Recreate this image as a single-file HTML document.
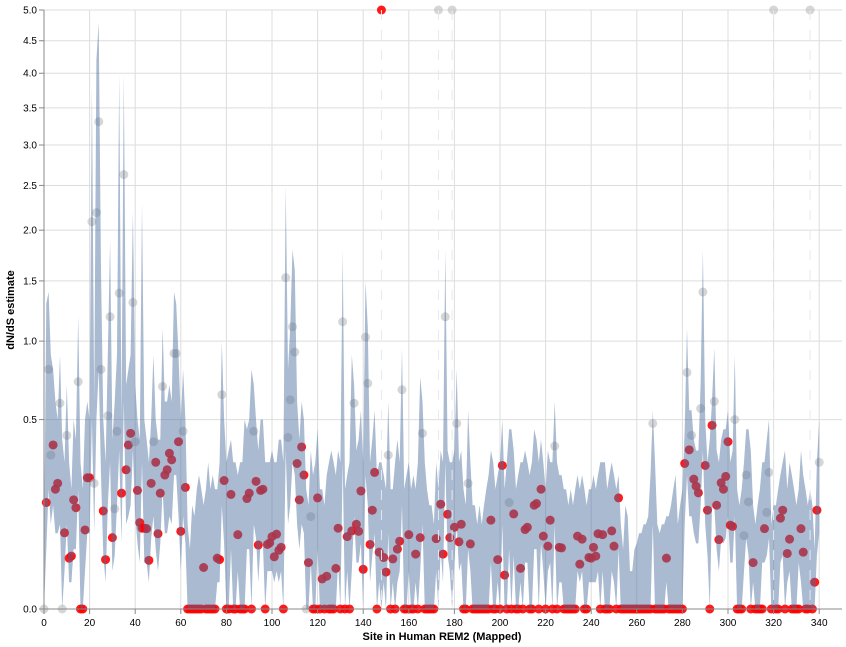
<!DOCTYPE html>
<html><head><meta charset="utf-8"><style>
html,body{margin:0;padding:0;background:#fff;}
svg{display:block;font-family:"Liberation Sans",Arial,sans-serif;}
</style></head><body>
<svg id="chart" width="846" height="647" viewBox="0 0 846 647" xmlns="http://www.w3.org/2000/svg">
<g id="grid"></g>
<g id="pts"></g>
<g id="band"></g>
<g id="axes"></g>
<text transform="translate(14,310) rotate(-90)" text-anchor="middle" font-size="11" font-weight="bold" fill="#000">dN/dS estimate</text>
<text x="442" y="640" text-anchor="middle" font-size="11" font-weight="bold" fill="#000">Site in Human REM2 (Mapped)</text>
</svg>
<script>
const est=[0,.158,.80,.33,.375,.2,.22,.59,0,.081,.42,.036,.039,.166,.143,.72,0,0,.087,.24,.24,2.09,.22,2.19,3.31,.80,.134,.034,.52,1.19,.071,.14,.44,1.39,.187,2.63,.27,.375,.43,1.31,.39,.196,.104,.091,.091,.09,.033,.22,.39,.3,.079,.187,.69,.25,.27,.338,.31,.91,.91,.39,.084,.44,.206,0,0,0,0,0,0,0,.024,0,0,0,0,0,.036,.034,.64,.23,0,0,.183,0,0,.077,0,0,0,.17,.187,0,.44,.227,.057,.196,.2,0,.058,.061,.073,.038,.078,.048,.053,0,1.53,.41,.61,1.11,.92,.295,.166,.366,.25,0,.03,.119,0,0,.172,0,.0126,0,.015,0,0,0,.023,.091,0,1.15,0,.073,0,.085,.59,.1,.084,.194,.022,1.03,.71,.058,.136,.26,0,.045,5,.037,.019,.33,0,.035,0,.05,.064,.67,0,0,.077,0,0,.042,0,.071,.43,0,0,0,0,0,.069,5,.153,.042,1.19,.125,.071,5,.093,.48,.063,.1,0,0,.22,.059,0,0,0,0,0,0,0,0,.11,0,0,.034,0,.287,.016,0,.158,0,.126,0,0,.023,0,.088,.093,0,0,.15,.155,0,.2,.074,0,.055,.11,0,.37,0,.053,.052,0,0,0,0,0,0,.074,.028,.068,0,0,.037,.036,.053,.039,.079,0,.077,0,0,0,.085,.055,0,.172,0,0,0,0,0,0,0,0,0,0,0,0,0,0,.48,0,0,0,0,0,.036,0,0,0,0,0,0,0,.295,.78,.353,.42,.235,.21,.188,.56,1.40,.287,.136,0,.47,.6,.15,.067,.222,.2,.245,.39,.098,.095,.5,0,0,0,.075,.25,.16,0,.03,0,0,0,0,.09,.13,.26,0,5,0,0,.115,.136,0,.043,.068,0,0,0,0,.09,.045,0,0,5,0,.01,.136,.3];
const greySites=[0,2,3,7,8,10,15,21,22,23,24,25,28,29,31,32,33,35,39,40,48,52,57,58,61,78,92,106,107,108,109,110,115,117,131,136,141,142,151,157,166,173,176,179,181,186,204,224,267,282,284,288,289,294,303,307,308,309,317,318,320,336,340];
const upper=[0.05,1.3,1.4,0.9,0.8,0.6,0.5,0.9,0.4,0.3,0.7,0.3,0.2,0.5,0.4,1.2,0.3,0.2,0.5,0.6,0.5,3.8,0.6,4.2,4.8,1.6,0.5,0.3,0.9,1.9,0.4,0.6,0.9,4.0,0.5,4.0,0.7,0.8,0.9,2.2,0.7,0.5,0.4,2.3,0.5,0.4,0.3,0.5,0.9,0.5,0.4,0.4,1.1,0.6,0.6,0.7,0.6,1.4,1.3,0.9,0.5,0.8,0.5,0.1,0.05,0.15,0.12,0.2,0.25,0.2,0.15,0.2,0.3,0.2,0.25,0.2,0.2,0.3,1.0,0.5,0.3,0.35,0.4,0.3,0.3,0.25,0.3,0.3,0.5,0.45,0.5,0.8,0.7,0.5,0.35,0.5,0.5,0.3,0.3,0.3,0.35,0.3,0.3,0.4,0.4,0.3,2.5,0.8,1.1,1.8,1.6,0.6,0.4,0.6,0.5,0.2,0.15,0.35,0.25,0.3,0.45,0.2,0.2,0.15,0.25,0.3,0.35,0.3,0.25,0.35,0.3,1.8,0.2,0.25,0.3,0.9,0.7,0.35,0.4,0.55,0.3,1.5,1.1,0.3,0.4,0.55,0.25,0.3,0.3,0.25,0.2,0.6,0.2,0.2,0.3,0.4,0.3,0.95,0.2,0.25,0.3,0.2,0.25,0.2,0.3,0.75,0.6,0.3,0.2,0.15,0.15,0.1,0.3,0.2,0.35,0.3,1.8,0.35,0.3,0.3,0.35,0.8,0.3,0.35,0.2,0.15,0.55,0.3,0.15,0.15,0.1,0.15,0.1,0.15,0.2,0.25,0.35,0.3,0.2,0.25,0.3,0.5,0.2,0.3,0.45,0.45,0.35,0.2,0.25,0.3,0.3,0.35,0.3,0.25,0.3,0.45,0.4,0.3,0.4,0.3,0.2,0.35,0.3,0.3,0.6,0.3,0.25,0.25,0.2,0.2,0.15,0.2,0.15,0.2,0.25,0.2,0.25,0.2,0.15,0.2,0.2,0.25,0.2,0.25,0.3,0.3,0.3,0.2,0.25,0.3,0.25,0.2,0.25,0.1,0.05,0.15,0.12,0.02,0.02,0.05,0.06,0.08,0.08,0.1,0.1,0.12,0.25,0.55,0.3,0.1,0.08,0.1,0.1,0.12,0.12,0.15,0.2,0.25,0.1,0.15,0.2,0.45,1.1,0.55,0.55,0.4,0.35,0.35,0.7,1.8,0.5,0.3,0.4,0.6,0.95,0.35,0.3,0.4,0.45,0.45,0.55,0.3,0.35,0.9,0.2,0.15,0.2,0.3,0.45,0.45,0.35,0.15,0.1,0.15,0.2,0.3,0.3,0.4,0.5,0.1,0.15,0.15,0.2,0.25,0.3,0.35,0.2,0.3,0.25,0.2,0.15,0.2,0.35,0.25,0.2,0.15,0.2,0.15,0.05,0.3,0.5];
const lower=[0,0.05,0.2,0.1,0.15,0.08,0.08,0.1,0,0.02,0.1,0.01,0.01,0.05,0.05,0.2,0,0,0.02,0.08,0.08,0.5,0.08,0.5,0.8,0.25,0.04,0.01,0.15,0.3,0.02,0.04,0.15,0.35,0.06,0.6,0.1,0.12,0.15,0.35,0.12,0.06,0.03,0.3,0.03,0.03,0.01,0.07,0.12,0.05,0.02,0.06,0.2,0.08,0.08,0.12,0.1,0.25,0.25,0.12,0.02,0.12,0.06,0,0,0,0,0,0,0,0,0,0,0,0,0,0.01,0.01,0.15,0.06,0,0,0.05,0,0,0.02,0,0,0,0.05,0.05,0,0.1,0.07,0.01,0.06,0.06,0,0.02,0.02,0.02,0.01,0.02,0.01,0.02,0,0.35,0.1,0.15,0.3,0.25,0.1,0.05,0.1,0.08,0,0,0.03,0,0,0.05,0,0,0,0,0,0,0,0,0.03,0,0.3,0,0.02,0,0.02,0.12,0.03,0.03,0.06,0,0.25,0.15,0.01,0.04,0.08,0,0.01,0,0.01,0,0.08,0,0.01,0,0.01,0.02,0.15,0,0,0.02,0,0,0.01,0,0.02,0.1,0,0,0,0,0,0.02,0,0.05,0.01,0.3,0.04,0.02,0,0.03,0.1,0.02,0.03,0,0,0.05,0.02,0,0,0,0,0,0,0,0,0.03,0,0,0.01,0,0.1,0,0,0.05,0,0.04,0,0,0.01,0,0.03,0.03,0,0,0.05,0.05,0,0.06,0.02,0,0.02,0.03,0,0.1,0,0.01,0.01,0,0,0,0,0,0,0.02,0.01,0.02,0,0,0.01,0.01,0.01,0.01,0.02,0,0.02,0,0,0,0.02,0.01,0,0.05,0,0,0,0,0,0,0,0,0,0,0,0,0,0,0.1,0,0,0,0,0,0.01,0,0,0,0,0,0,0,0.1,0.25,0.12,0.12,0.08,0.06,0.06,0.15,0.35,0.1,0.04,0,0.15,0.15,0.05,0.02,0.07,0.06,0.07,0.12,0.03,0.03,0.12,0,0,0,0.02,0.07,0.04,0,0.01,0,0,0,0.03,0.03,0.04,0.07,0,0,0,0,0.03,0.04,0,0.01,0.02,0,0,0,0.03,0.01,0,0,0,0,0,0,0.04,0.08];
const xTicks=[0,20,40,60,80,100,120,140,160,180,200,220,240,260,280,300,320,340];
const yTicks=[0,0.5,1,1.5,2,2.5,3,3.5,4,4.5,5];
const yLabels=["0.0","0.5","1.0","1.5","2.0","2.5","3.0","3.5","4.0","4.5","5.0"];

const NS="http://www.w3.org/2000/svg";
const X0=44,X1=842,Y0=609,Y1=10,XMAX=350,YMAX=5;
function xs(v){return X0+(X1-X0)*v/XMAX;}
function ys(v){return Y0-(Y0-Y1)*Math.sqrt(Math.max(0,Math.min(v,YMAX))/YMAX);}
function mk(tag,at,parent){const e=document.createElementNS(NS,tag);for(const k in at)e.setAttribute(k,at[k]);parent.appendChild(e);return e;}
const grid=document.getElementById('grid'),axes=document.getElementById('axes'),band=document.getElementById('band'),pts=document.getElementById('pts');
xTicks.forEach(t=>{
 const l=mk('line',{x1:xs(t),x2:xs(t),y1:Y1,y2:Y0,stroke:'#ddd','stroke-width':1},grid);
 
 
 const tk=mk('line',{x1:xs(t),x2:xs(t),y1:Y0,y2:Y0+5,stroke:'#888'},axes);
 
 
 const tx=mk('text',{x:xs(t),y:Y0+17,'text-anchor':'middle','font-size':10,fill:'#000'},axes);
 tx.textContent=t;
 
 
});
yTicks.forEach((t,i)=>{
 const l=mk('line',{x1:X0,x2:X1,y1:ys(t),y2:ys(t),stroke:'#ddd','stroke-width':1},grid);
 
 
 const tk=mk('line',{x1:X0-5,x2:X0,y1:ys(t),y2:ys(t),stroke:'#888'},axes);
 
 
 const tx=mk('text',{x:X0-7,y:ys(t)+3.5,'text-anchor':'end','font-size':10,fill:'#000'},axes);
 tx.textContent=yLabels[i];
 
 
});
const ax=mk('line',{x1:X0,x2:X1,y1:Y0,y2:Y0,stroke:'#888'},axes);


const ay=mk('line',{x1:X0,x2:X0,y1:Y1,y2:Y0,stroke:'#888'},axes);


est.forEach((v,i)=>{
 const g=greySites.indexOf(i)>=0;
 const c=mk('circle',{cx:xs(i),cy:ys(v),r:4.5,fill:g?'#bbb':'#ff0000','fill-opacity':g?0.6:0.9},pts);
 
 
});
// band drawn over the points
let d='';
for(let i=0;i<upper.length;i++){d+=(i?'L':'M')+xs(i).toFixed(1)+','+ys(upper[i]).toFixed(1);}
for(let i=lower.length-1;i>=0;i--){d+='L'+xs(i).toFixed(1)+','+ys(lower[i]).toFixed(1);}
d+='Z';
const bp=mk('path',{d:d,fill:'#4c6f9e','fill-opacity':0.48,stroke:'none'},band);


est.forEach((v,i)=>{
 if(v>=YMAX){
  const l=mk('line',{x1:xs(i),x2:xs(i),y1:Y1,y2:Y0,stroke:'#e4e9f1','stroke-width':1,'stroke-dasharray':'10,10'},band);
  
  
 }
});
</script>
</body></html>
